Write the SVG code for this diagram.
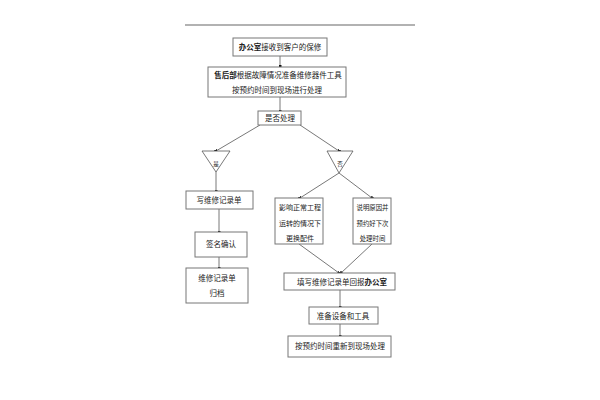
<svg xmlns="http://www.w3.org/2000/svg" width="600" height="400" viewBox="0 0 600 400">
<style>
.box{fill:#fff;stroke:#777;stroke-width:1}
.tri{fill:#fff;stroke:#555;stroke-width:0.8}
.t{font-family:"Liberation Serif","Noto Sans CJK SC",serif;font-size:7.5px;fill:#222;text-anchor:middle}
.b{font-weight:bold}
.c{stroke:#555;stroke-width:0.8;fill:none}
.s{font-size:5.5px}
.m{font-size:7px}
.n{font-size:6.4px}
</style>
<defs>
<marker id="dot" viewBox="0 0 4 4" refX="2" refY="2" markerWidth="3" markerHeight="3" markerUnits="userSpaceOnUse" orient="auto">
<rect x="0" y="0" width="4" height="4" fill="#111"/>
</marker>
</defs>
<line x1="185" y1="25" x2="415" y2="25" stroke="#999" stroke-width="1.5"/>
<g id="connectors">
<line class="c" x1="280" y1="56" x2="280" y2="66" marker-end="url(#dot)"/>
<line class="c" x1="280" y1="97" x2="280" y2="111" marker-end="url(#dot)"/>
<line class="c" x1="260" y1="125" x2="216" y2="151" marker-end="url(#dot)"/>
<line class="c" x1="300" y1="125" x2="339" y2="151" marker-end="url(#dot)"/>
<line class="c" x1="216" y1="172" x2="216" y2="191" marker-end="url(#dot)"/>
<line class="c" x1="339" y1="173" x2="300" y2="198" marker-end="url(#dot)"/>
<line class="c" x1="339" y1="173" x2="372" y2="198" marker-end="url(#dot)"/>
<line class="c" x1="219" y1="209" x2="219" y2="232" marker-end="url(#dot)"/>
<line class="c" x1="219" y1="257" x2="219" y2="268" marker-end="url(#dot)"/>
<line class="c" x1="299" y1="244" x2="339" y2="273" marker-end="url(#dot)"/>
<line class="c" x1="372" y1="244" x2="341" y2="273" marker-end="url(#dot)"/>
<line class="c" x1="340" y1="290" x2="340" y2="307" marker-end="url(#dot)"/>
<line class="c" x1="340" y1="324" x2="340" y2="336" marker-end="url(#dot)"/>
</g>
<g id="n1"><rect class="box" x="233" y="38" width="94" height="18"/><text class="t" x="280" y="50"><tspan class="b">办公室</tspan>接收到客户的保修</text></g>
<g id="n2"><rect class="box" x="208" y="67" width="138" height="30"/><text class="t" x="278" y="78"><tspan class="b">售后部</tspan>根据故障情况准备维修器件工具</text><text class="t" x="277" y="93">按预约时间到现场进行处理</text></g>
<g id="n3"><rect class="box" x="258" y="111" width="43" height="14"/><text class="t" x="280" y="121">是否处理</text></g>
<g id="n4"><polygon class="tri" points="202,151 230,151 216,172"/><text class="t s" x="216" y="166">是</text></g>
<g id="n5"><polygon class="tri" points="327,151 353,151 339,173"/><text class="t s" x="340" y="166">否</text></g>
<g id="n6"><rect class="box" x="186" y="191" width="67" height="18"/><text class="t" x="219" y="203">写维修记录单</text></g>
<g id="n7"><rect class="box" x="195" y="232" width="52" height="25"/><text class="t" x="221" y="247">签名确认</text></g>
<g id="n8"><rect class="box" x="186" y="268" width="62" height="35"/><text class="t" x="217" y="281">维修记录单</text><text class="t" x="217" y="296">归档</text></g>
<g id="n9"><rect class="box" x="275" y="198" width="48" height="46"/><text class="t m" x="300" y="210">影响正常工程</text><text class="t m" x="300" y="226">运转的情况下</text><text class="t m" x="300" y="241">更换配件</text></g>
<g id="n10"><rect class="box" x="353" y="198" width="38" height="46"/><text class="t n" x="372.5" y="210">说明原因并</text><text class="t n" x="372.5" y="226">预约好下次</text><text class="t n" x="372.5" y="241">处理时间</text></g>
<g id="n11"><rect class="box" x="284" y="273" width="111" height="17"/><text class="t" x="342" y="284.5">填写维修记录单回报<tspan class="b">办公室</tspan></text></g>
<g id="n12"><rect class="box" x="309" y="307" width="69" height="17"/><text class="t" x="343" y="318.5">准备设备和工具</text></g>
<g id="n13"><rect class="box" x="288" y="336" width="103" height="21"/><text class="t" x="340" y="349">按预约时间重新到现场处理</text></g>
</svg>
